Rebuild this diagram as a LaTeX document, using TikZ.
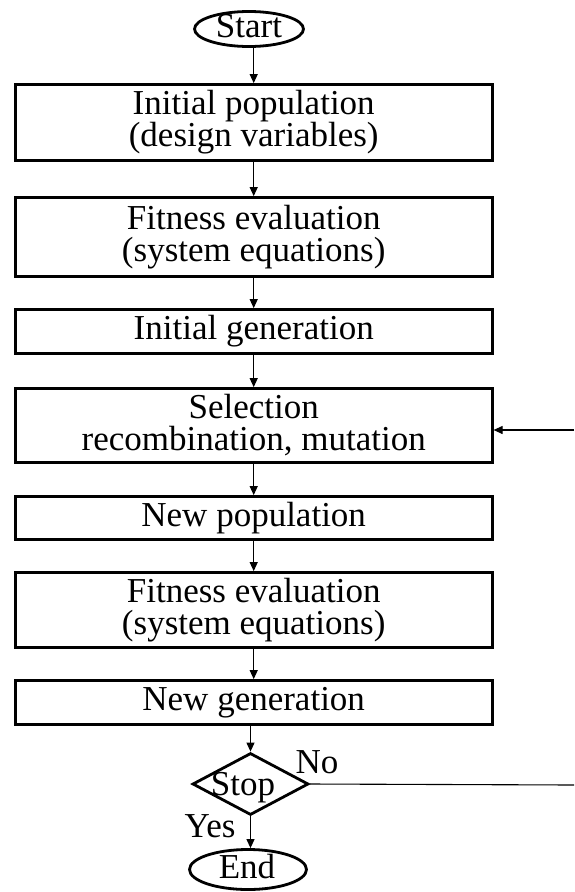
\documentclass[tikz,border=0pt]{standalone}
\usepackage{fontspec}
\setmainfont{Liberation Serif}
\usetikzlibrary{shapes.geometric,arrows.meta}
\begin{document}
\begin{tikzpicture}[x=1pt,y=-1pt,
  every node/.style={font=\fontsize{35}{32}\selectfont},
  box/.style={draw, line width=2.8pt, rectangle, minimum width=477pt, inner sep=0pt, align=center},
  term/.style={draw, line width=2.8pt, ellipse, inner sep=0pt},
  dec/.style={draw, line width=2.8pt, diamond, inner sep=0pt},
  txt/.style={inner sep=0pt, anchor=base},
  arr/.style={line width=1.1pt, -{Triangle[length=9pt,width=8pt]}},
  conn/.style={line width=1.1pt}]
\useasboundingbox (0,0) rectangle (574,892);
\node[term, minimum width=109pt, minimum height=35pt] (start) at (249,29) {};
\node[txt] (startt) at (249,37) {Start};
\node[box, minimum height=76pt] (b1) at (253.7,122.5) {Initial population\\ (design variables)};
\node[box, minimum height=79pt] (b2) at (253.7,237) {Fitness evaluation\\(system equations)};
\node[box, minimum height=44pt] (b3) at (253.7,331.5) {Initial generation};
\node[box, minimum height=74pt] (b4) at (253.7,425.5) {Selection\\recombination, mutation};
\node[box, minimum height=43pt] (b5) at (253.7,518) {New population};
\node[box, minimum height=75pt] (b6) at (253.7,610) {Fitness evaluation\\(system equations)};
\node[box, minimum height=44pt] (b7) at (253.7,702.5) {New generation};
\node[dec, minimum width=116pt, minimum height=62pt] (stop) at (250.5,784) {};
\node[txt] (stopt) at (243,795) {Stop};
\node[term, minimum width=117pt, minimum height=40pt] (end) at (248,869.5) {};
\node[txt] (endt) at (247,878) {End};
\node[txt] (no) at (317,773) {No};
\node[txt] (yes) at (210,837) {Yes};
\coordinate (fbB) at (574,785);
\coordinate (fbT) at (574,430);
\draw[arr] (start.south -| b1.north) -- (b1.north);
\draw[arr] (b1.south) -- (b2.north);
\draw[arr] (b2.south) -- (b3.north);
\draw[arr] (b3.south) -- (b4.north);
\draw[arr] (b4.south) -- (b5.north);
\draw[arr] (b5.south) -- (b6.north);
\draw[arr] (b6.south) -- (b7.north);
\draw[arr] (b7.south -| stop.north) -- (stop.north);
\draw[arr] (stop.south) -- (stop.south |- end.north);
\draw[conn] (stop.east) -- (fbB);
\draw[arr] (fbT) -- (fbT -| b4.east);
\end{tikzpicture}
\end{document}
